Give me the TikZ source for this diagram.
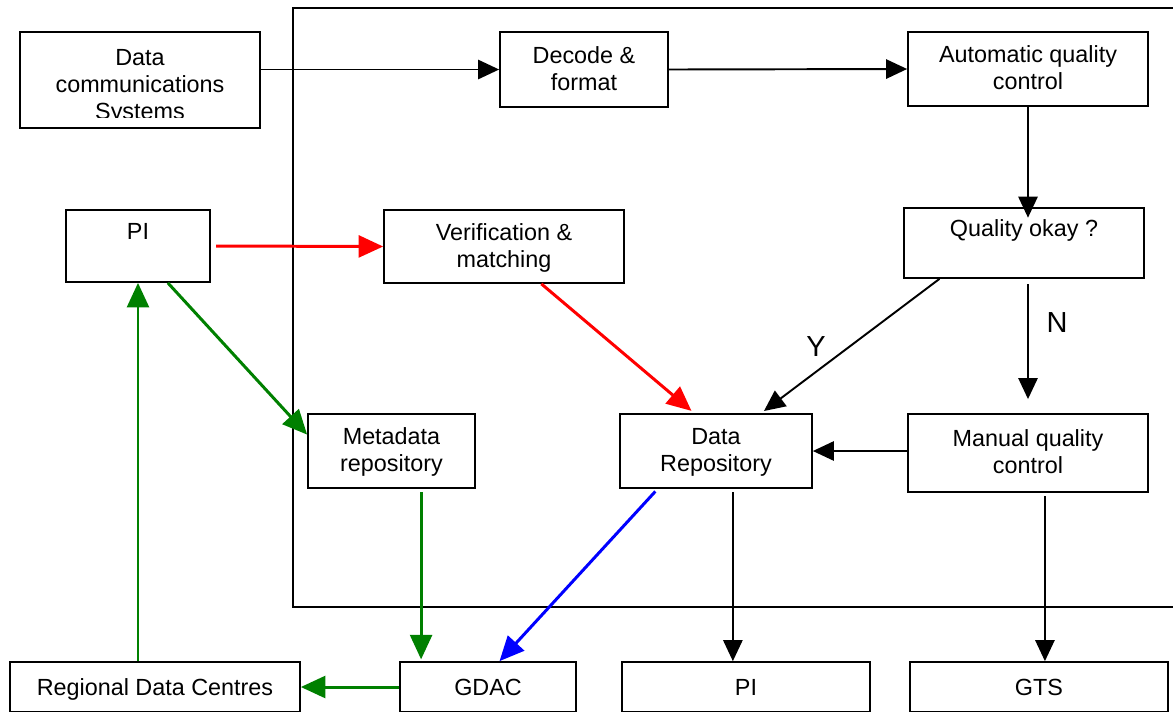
\documentclass[tikz,border=0pt]{standalone}
\usepackage{fontspec}
\setmainfont{Liberation Sans}
\usetikzlibrary{arrows.meta, positioning}
\definecolor{dkgreen}{RGB}{0,128,0}
\tikzstyle{box}       = [draw, line width=1pt, rectangle, inner sep=0pt, align=center, font=\fontsize{13.3}{15.3}\selectfont]
\tikzstyle{oneline}   = [text height=9.5pt, text depth=0pt]
\tikzstyle{twoline}   = [text height=23.7pt, text depth=0pt]
\tikzstyle{threeline} = [text height=40.1pt, text depth=0pt]
\tikzstyle{arrow}     = [line width=1.1pt, -{Triangle[length=12pt,width=11pt]}]
\tikzstyle{carrow}    = [line width=1.7pt, -{Triangle[length=14pt,width=12.5pt]}]
\tikzstyle{yn}        = [font=\fontsize{16.5}{18}\selectfont]

\begin{document}
\begin{tikzpicture}[x=0.02cm,y=-0.02cm]

\useasboundingbox (0,0) rectangle (1173,711);
\clip (0,0) rectangle (1173,711);

\draw[line width=1.1pt] (293,8) rectangle (1200,607);

\node[box,minimum width=4.8cm,minimum height=1.92cm] (dcs) at (140,80) {};
\begin{scope}
\clip (20,32) rectangle (260,117);
\node[box,threeline,draw=none] (dcstxt) at (140,84) {Data\\communications\\Systems};
\end{scope}

\node[box,twoline,minimum width=3.36cm,minimum height=1.5cm] (dec) at (584,69.5) {Decode \&\\format};
\node[box,twoline,minimum width=4.8cm,minimum height=1.48cm] (aqc) at (1028,69) {Automatic quality\\control};

\node[box,twoline,minimum width=2.88cm,minimum height=1.44cm] (pi) at (138,246) {PI\\\mbox{}};
\node[box,twoline,minimum width=4.8cm,minimum height=1.46cm] (ver) at (504,246.5) {Verification \&\\matching};
\node[box,twoline,minimum width=4.8cm,minimum height=1.4cm] (qok) at (1024,243) {Quality okay ?\\\mbox{}};

\node[box,twoline,minimum width=3.34cm,minimum height=1.48cm] (meta) at (391.5,451) {Metadata\\repository};
\node[box,twoline,minimum width=3.84cm,minimum height=1.48cm] (drep) at (716,451) {Data\\Repository};
\node[box,twoline,minimum width=4.8cm,minimum height=1.56cm] (mqc) at (1028,453) {Manual quality\\control};

\node[box,oneline,minimum width=5.8cm,minimum height=1cm] (rdc) at (155,687) {Regional Data Centres};
\node[box,oneline,minimum width=3.52cm,minimum height=1cm] (gdac) at (488,687) {GDAC};
\node[box,oneline,minimum width=4.96cm,minimum height=1cm] (pi2) at (746,687) {PI};
\node[box,oneline,minimum width=5.16cm,minimum height=1cm] (gts) at (1039,687) {GTS};

\node[yn] (lbly) at (816,347) {Y};
\node[yn] (lbln) at (1057,323) {N};

% data flow
\draw[arrow] (dcs.east |- dec.west) -- (dec.west);
\draw[arrow] (dec.east) -- (aqc.west);
\draw[arrow,shorten >=-6pt] (aqc.south) -- (aqc.south |- qok.north);
\draw[arrow,shorten <=3pt,shorten >=8pt] (qok.south -| aqc.south) -- (aqc.south |- mqc.north);
\draw[arrow,shorten >=2pt] (qok.203.6) -- (drep.40);
\draw[arrow] (mqc.west |- drep.east) -- (drep.east);
\draw[arrow,shorten <=2pt] (drep.-66) -- (drep.-66 |- pi2.north);
\draw[arrow,shorten <=2pt] (mqc.-67.7) -- (mqc.-67.7 |- gts.north);

% PI submissions
\draw[carrow,red,shorten <=3pt] (pi.east) -- (ver.west);
\draw[carrow,red,shorten >=2pt] (ver.-45) -- (drep.120);
\draw[carrow,dkgreen] (pi.-51) -- (meta.169);
\draw[carrow,dkgreen,shorten <=2pt,shorten >=1pt] (meta.-52) -- (meta.-52 |- gdac.north);
\draw[carrow,blue,shorten <=2pt] (drep.213.5) -- (gdac.66);
\draw[carrow,dkgreen] (gdac.west) -- (rdc.east);
\draw[carrow,dkgreen] (rdc.north -| pi.south) -- (pi.south);

\end{tikzpicture}
\end{document}
